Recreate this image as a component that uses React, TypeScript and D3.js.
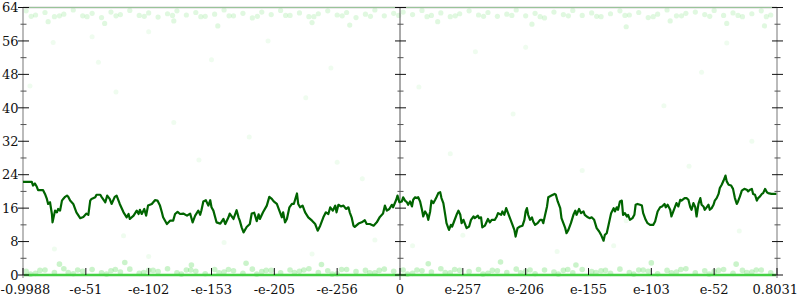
import React from "react";
import * as d3 from "d3";

const xTickLabels = ["-0.9988", "-e-51", "-e-102", "-e-153", "-e-205", "-e-256", "0", "e-257", "e-206", "e-155", "e-103", "e-52", "0.8031"];
const yMajorTicks = [0, 8, 16, 24, 32, 40, 48, 56, 64];
const yMinorTicks = [4, 12, 20, 28, 36, 44, 52, 60];

// [position (tick index units), value]
const lineLeft: [number, number][] = [
  [0.0, 22.3], [0.14, 22.3], [0.16, 21.4], [0.19, 21.9], [0.22, 21.1], [0.24, 20.3], [0.3, 20.3], [0.32, 20.3], [0.35, 19.4], [0.38, 18.2],
  [0.4, 17.0], [0.43, 17.4], [0.46, 14.6], [0.47, 12.6], [0.51, 15.4], [0.54, 15.0], [0.56, 15.8], [0.59, 15.4], [0.62, 17.8], [0.64, 18.2],
  [0.67, 18.7], [0.7, 19.0], [0.72, 18.7], [0.75, 17.8], [0.8, 17.0], [0.85, 15.0], [0.91, 13.6], [0.96, 13.9], [1.01, 14.7], [1.04, 14.4],
  [1.07, 17.8], [1.09, 18.2], [1.15, 18.6], [1.17, 19.2], [1.23, 19.2], [1.25, 18.7], [1.31, 17.4], [1.34, 19.0], [1.38, 18.2], [1.41, 17.0],
  [1.46, 18.7], [1.49, 19.0], [1.54, 17.0], [1.6, 15.0], [1.65, 13.8], [1.68, 14.6], [1.7, 13.4], [1.76, 14.2], [1.81, 15.4], [1.84, 14.6],
  [1.86, 15.6], [1.89, 14.6], [1.93, 15.8], [1.96, 14.2], [1.99, 16.6], [2.05, 17.0], [2.1, 17.9], [2.14, 17.8], [2.18, 16.6], [2.21, 15.0],
  [2.23, 13.8], [2.29, 12.2], [2.34, 13.0], [2.39, 13.0], [2.42, 14.6], [2.46, 15.1], [2.5, 14.6], [2.55, 14.7], [2.61, 14.2], [2.66, 14.7],
  [2.7, 12.6], [2.74, 14.2], [2.79, 15.4], [2.82, 14.4], [2.84, 15.5], [2.87, 17.6], [2.91, 17.9], [2.95, 16.6], [2.98, 17.9], [3.0, 16.2],
  [3.03, 15.4], [3.08, 12.6], [3.14, 12.3], [3.19, 13.4], [3.22, 12.2], [3.27, 13.8], [3.29, 14.7], [3.35, 13.4], [3.4, 15.5], [3.43, 13.8],
  [3.45, 13.0], [3.48, 11.4], [3.51, 10.2], [3.56, 11.5], [3.61, 12.2], [3.64, 14.7], [3.68, 14.9], [3.72, 12.9], [3.75, 14.5], [3.77, 13.4],
  [3.82, 15.0], [3.88, 16.6], [3.92, 18.7], [3.96, 18.2], [3.99, 17.6], [4.04, 17.0], [4.08, 15.4], [4.12, 13.8], [4.14, 15.0], [4.17, 12.6],
  [4.2, 13.4], [4.24, 16.2], [4.28, 17.0], [4.31, 17.0], [4.36, 19.5], [4.38, 17.0], [4.41, 16.2], [4.45, 16.6], [4.49, 15.0], [4.54, 13.8],
  [4.6, 13.0], [4.65, 12.2], [4.69, 10.6], [4.73, 11.8], [4.78, 13.8], [4.82, 15.0], [4.86, 14.6], [4.89, 16.2], [4.93, 15.4], [4.97, 16.6],
  [4.99, 15.0], [5.02, 16.8], [5.06, 16.4], [5.1, 16.6], [5.14, 15.8], [5.18, 16.2], [5.2, 15.0], [5.23, 13.8], [5.26, 11.8], [5.28, 11.5],
  [5.34, 12.3], [5.39, 12.6], [5.44, 13.1], [5.47, 12.2], [5.52, 12.2], [5.58, 11.8], [5.63, 12.6], [5.68, 13.9], [5.73, 14.7], [5.76, 16.6],
  [5.79, 15.4], [5.83, 15.8], [5.87, 16.8], [5.89, 16.2], [5.94, 18.0], [5.96, 19.0], [5.99, 17.4],
];

const lineRight: [number, number][] = [
  [6.03, 17.6], [6.05, 18.6], [6.08, 17.8], [6.11, 17.4], [6.13, 16.8], [6.16, 17.6], [6.19, 16.4], [6.21, 18.0], [6.24, 18.6], [6.27, 18.4],
  [6.29, 18.6], [6.32, 17.6], [6.35, 15.6], [6.37, 14.0], [6.4, 15.2], [6.43, 14.4], [6.45, 13.2], [6.48, 15.2], [6.5, 17.8], [6.53, 17.2],
  [6.56, 18.0], [6.58, 18.6], [6.61, 19.6], [6.64, 19.8], [6.66, 18.4], [6.69, 17.2], [6.72, 14.4], [6.74, 12.4], [6.78, 10.8], [6.81, 12.0],
  [6.83, 11.6], [6.86, 12.8], [6.9, 14.4], [6.93, 15.4], [6.96, 14.4], [6.98, 12.4], [7.01, 13.2], [7.03, 12.4], [7.06, 11.2], [7.1, 11.6],
  [7.13, 13.2], [7.17, 14.0], [7.19, 13.6], [7.24, 14.2], [7.26, 13.6], [7.29, 13.8], [7.31, 11.4], [7.35, 11.8], [7.4, 13.4], [7.43, 12.6],
  [7.46, 13.2], [7.51, 13.2], [7.54, 14.0], [7.56, 14.8], [7.61, 14.4], [7.63, 15.2], [7.66, 14.4], [7.69, 16.0], [7.72, 14.8], [7.75, 13.6],
  [7.78, 12.4], [7.82, 10.8], [7.84, 9.2], [7.87, 11.2], [7.91, 11.6], [7.95, 11.8], [7.98, 13.2], [8.0, 15.2], [8.02, 16.0], [8.04, 14.4],
  [8.07, 13.2], [8.1, 13.8], [8.12, 12.8], [8.15, 12.0], [8.19, 12.4], [8.23, 13.2], [8.26, 13.2], [8.28, 12.4], [8.31, 14.4], [8.34, 16.4],
  [8.36, 18.6], [8.41, 19.0], [8.46, 19.4], [8.48, 19.2], [8.51, 17.6], [8.55, 16.0], [8.57, 13.6], [8.6, 12.4], [8.63, 11.2], [8.65, 10.0],
  [8.68, 10.8], [8.72, 12.4], [8.76, 14.4], [8.79, 15.4], [8.81, 14.4], [8.85, 15.8], [8.88, 14.8], [8.92, 15.2], [8.94, 14.4], [8.99, 13.8],
  [9.02, 13.6], [9.05, 13.8], [9.09, 13.2], [9.13, 11.2], [9.17, 10.4], [9.2, 9.6], [9.24, 8.2], [9.26, 9.6], [9.29, 10.0], [9.32, 12.0],
  [9.36, 14.8], [9.4, 16.0], [9.42, 15.2], [9.45, 16.2], [9.47, 15.6], [9.5, 17.6], [9.53, 17.8], [9.55, 14.4], [9.58, 14.8], [9.61, 14.0],
  [9.63, 14.4], [9.66, 13.2], [9.7, 13.6], [9.73, 14.4], [9.75, 16.8], [9.78, 17.0], [9.82, 16.8], [9.85, 16.6], [9.87, 14.8], [9.91, 13.2],
  [9.94, 12.4], [9.98, 12.0], [10.03, 12.0], [10.06, 12.8], [10.1, 15.2], [10.14, 16.2], [10.17, 16.4], [10.21, 17.0], [10.23, 16.2], [10.26, 16.8],
  [10.3, 15.6], [10.32, 14.0], [10.35, 15.2], [10.38, 16.4], [10.4, 17.2], [10.43, 16.4], [10.46, 18.0], [10.48, 17.8], [10.53, 18.4], [10.56, 18.4],
  [10.59, 18.0], [10.62, 16.2], [10.64, 15.6], [10.67, 17.2], [10.7, 16.2], [10.72, 14.0], [10.75, 17.0], [10.78, 18.4], [10.8, 16.8], [10.83, 16.4],
  [10.85, 15.6], [10.88, 16.2], [10.91, 16.8], [10.93, 15.6], [10.96, 16.0], [10.99, 16.8], [11.01, 17.8], [11.04, 18.4], [11.07, 19.4], [11.09, 20.8],
  [11.12, 21.6], [11.15, 22.6], [11.18, 23.8], [11.2, 22.4], [11.23, 21.6], [11.27, 21.4], [11.3, 20.6], [11.33, 18.4], [11.36, 17.0], [11.38, 17.6],
  [11.41, 18.8], [11.44, 20.2], [11.48, 20.6], [11.52, 20.4], [11.54, 20.0], [11.57, 20.4], [11.6, 20.6], [11.62, 19.4], [11.65, 19.2], [11.68, 17.8],
  [11.7, 18.4], [11.73, 18.8], [11.76, 19.4], [11.78, 19.6], [11.81, 20.6], [11.84, 19.8], [11.86, 19.6], [11.91, 19.4], [11.99, 19.4],
];

// light scatter points [position, value]
const bottomBand: [number, number][] = [
  [0.05, 0.9], [0.2, 0.4], [0.35, 1.2], [0.5, 0.6], [0.65, 1.5], [0.8, 0.3], [0.95, 0.9], [1.1, 1.3], [1.25, 0.5], [1.4, 1.0],
  [1.55, 0.7], [1.7, 1.4], [1.85, 0.4], [2.0, 1.1], [2.15, 0.8], [2.3, 1.5], [2.45, 0.5], [2.6, 1.2], [2.75, 0.9], [2.9, 0.3],
  [3.05, 1.3], [3.2, 0.7], [3.35, 1.0], [3.5, 0.4], [3.65, 1.4], [3.8, 0.8], [3.95, 1.1], [4.1, 0.5], [4.25, 1.2], [4.4, 0.9],
  [4.55, 1.5], [4.7, 0.6], [4.85, 1.0], [5.0, 0.3], [5.15, 1.3], [5.3, 0.8], [5.45, 1.1], [5.6, 0.5], [5.75, 1.4], [5.9, 0.9],
  [6.05, 1.2], [6.2, 0.4], [6.35, 1.0], [6.5, 0.7], [6.65, 1.5], [6.8, 0.5], [6.95, 1.1], [7.1, 0.8], [7.25, 1.3], [7.4, 0.4],
  [7.55, 1.0], [7.7, 0.6], [7.85, 1.4], [8.0, 0.9], [8.15, 0.3], [8.3, 1.2], [8.45, 0.7], [8.6, 1.1], [8.75, 0.5], [8.9, 1.3],
  [9.05, 0.8], [9.2, 1.0], [9.35, 0.4], [9.5, 1.4], [9.65, 0.6], [9.8, 1.2], [9.95, 0.9], [10.1, 0.3], [10.25, 1.1], [10.4, 0.7],
  [10.55, 1.5], [10.7, 0.5], [10.85, 1.0], [11.0, 0.8], [11.15, 1.3], [11.3, 0.4], [11.45, 1.1], [11.6, 0.7], [11.75, 1.2], [11.9, 0.5],
  [0.12, 0.2], [0.72, 0.6], [1.33, 0.2], [1.92, 0.6], [2.52, 0.2], [3.12, 0.5], [3.72, 0.2], [4.32, 0.6], [4.92, 0.2], [5.52, 0.5],
  [6.12, 0.2], [6.72, 0.6], [7.32, 0.2], [7.92, 0.5], [8.52, 0.2], [9.12, 0.6], [9.72, 0.2], [10.32, 0.5], [10.92, 0.2], [11.52, 0.6],
  [0.27, 1.1], [0.87, 1.2], [1.47, 1.3], [2.07, 1.1], [2.67, 1.2], [3.27, 1.3], [3.87, 1.1], [4.47, 1.2], [5.07, 1.3], [5.67, 1.1],
  [6.27, 1.2], [6.87, 1.3], [7.47, 1.1], [8.07, 1.2], [8.67, 1.3], [9.27, 1.1], [9.87, 1.2], [10.47, 1.3], [11.07, 1.1], [11.67, 1.2],
  [0.58, 2.6], [1.62, 3.0], [2.68, 2.4], [3.55, 2.8], [4.75, 2.5], [6.45, 2.7], [7.6, 3.1], [8.8, 2.4], [10.0, 2.9], [11.35, 2.6],
];

const topBand: [number, number][] = [
  [0.05, 63.2], [0.2, 62.2], [0.35, 62.8], [0.5, 61.8], [0.65, 62.4], [0.8, 63.4], [0.95, 62.0], [1.1, 62.6], [1.25, 61.6], [1.4, 62.9],
  [1.55, 62.3], [1.7, 63.3], [1.85, 62.1], [2.0, 62.7], [2.15, 61.7], [2.3, 62.5], [2.45, 63.2], [2.6, 62.2], [2.75, 62.8], [2.9, 61.9],
  [3.05, 62.4], [3.2, 63.4], [3.35, 62.0], [3.5, 62.6], [3.65, 61.5], [3.8, 62.9], [3.95, 62.3], [4.1, 63.3], [4.25, 62.1], [4.4, 62.7],
  [4.55, 61.8], [4.7, 62.5], [4.85, 63.2], [5.0, 62.2], [5.15, 62.8], [5.3, 61.6], [5.45, 62.4], [5.6, 63.4], [5.75, 62.0], [5.9, 62.6],
  [6.05, 62.9], [6.2, 62.3], [6.35, 63.3], [6.5, 62.1], [6.65, 62.7], [6.8, 61.8], [6.95, 62.5], [7.1, 63.2], [7.25, 62.2], [7.4, 62.8],
  [7.55, 61.9], [7.7, 62.4], [7.85, 63.4], [8.0, 62.0], [8.15, 62.6], [8.3, 61.5], [8.45, 62.9], [8.6, 62.3], [8.75, 63.3], [8.9, 62.1],
  [9.05, 62.7], [9.2, 61.8], [9.35, 62.5], [9.5, 63.2], [9.65, 62.2], [9.8, 62.8], [9.95, 61.6], [10.1, 62.4], [10.25, 63.4], [10.4, 62.0],
  [10.55, 62.6], [10.7, 62.9], [10.85, 62.3], [11.0, 63.3], [11.15, 62.1], [11.3, 62.7], [11.45, 61.8], [11.6, 62.5], [11.75, 63.2], [11.9, 62.2],
  [0.13, 61.9], [0.58, 62.0], [1.02, 61.8], [1.48, 62.0], [1.93, 61.9], [2.38, 62.1], [2.83, 61.8], [3.28, 62.0], [3.73, 61.9], [4.18, 62.1],
  [4.63, 61.8], [5.08, 62.0], [5.53, 61.9], [5.98, 62.1], [6.43, 61.8], [6.88, 62.0], [7.33, 61.9], [7.78, 62.1], [8.23, 61.8], [8.68, 62.0],
  [9.13, 61.9], [9.58, 62.1], [10.03, 61.8], [10.48, 62.0], [10.93, 61.9], [11.38, 62.1], [11.83, 61.8],
  [0.4, 60.6], [1.3, 60.2], [2.4, 60.8], [3.1, 59.6], [4.6, 60.4], [5.2, 59.8], [6.6, 60.6], [8.1, 60.0], [9.6, 59.4], [10.3, 60.8], [11.2, 60.2], [11.8, 59.6],
];

const midScatter: [number, number][] = [
  [0.11, 45.2], [0.48, 55.6], [1.1, 57.0], [1.2, 50.9], [1.48, 43.8], [2.0, 58.2], [2.4, 36.5], [3.0, 51.5], [3.6, 33.0], [4.5, 42.4],
  [5.0, 27.0], [5.4, 23.0], [0.5, 6.2], [1.6, 9.4], [2.0, 4.4], [3.2, 7.8], [4.6, 5.0], [5.6, 8.4], [6.3, 45.0], [6.8, 29.0],
  [7.2, 53.4], [7.8, 38.5], [8.5, 5.6], [8.9, 25.0], [9.4, 7.0], [9.6, 13.0], [10.2, 40.5], [10.8, 48.5], [11.2, 55.5], [11.6, 32.0],
  [6.2, 7.0], [7.0, 9.5], [3.9, 56.0], [4.9, 49.5], [2.8, 27.5], [8.0, 54.5], [10.6, 26.0], [11.4, 10.5],
];

const baseline: [number, number][] = [[0, 0], [12, 0]];
const ceiling: [number, number][] = [[0, 64], [12, 64]];

export default function App() {
  const W = 800;
  const H = 300;
  const x = d3.scaleLinear().domain([0, 12]).range([23, 777]);
  const y = d3.scaleLinear().domain([0, 64]).range([275, 7.5]);
  const line = d3.line<[number, number]>().x((d) => x(d[0])).y((d) => y(d[1]));
  const series = [...lineLeft, ...lineRight];
  const font = "DejaVu Serif, serif";
  const axesX = [0, 6, 12];
  const lastIdx = xTickLabels.length - 1;

  return (
    <svg width={W} height={H} style={{ position: "fixed", left: 0, top: 0, background: "#fff" }} xmlns="http://www.w3.org/2000/svg">
      {/* scatter */}
      <g fill="#66dd66">
        {midScatter.map((d, i) => (
          <circle key={"m" + i} cx={x(d[0])} cy={y(d[1])} r={2.5} opacity={0.1} />
        ))}
        {topBand.map((d, i) => (
          <circle key={"t" + i} cx={x(d[0])} cy={y(d[1])} r={2.6} opacity={0.2} />
        ))}
        {bottomBand.map((d, i) => (
          <circle key={"b" + i} cx={x(d[0])} cy={y(d[1])} r={2.8} opacity={0.35} />
        ))}
      </g>
      {/* frame */}
      <path d={line(ceiling) || ""} stroke="#aaa" strokeWidth={1.6} fill="none" />
      <path d={line(ceiling) || ""} stroke="#88dd88" strokeWidth={1} fill="none" opacity={0.5} />
      <path d={line(baseline) || ""} stroke="#44d044" strokeWidth={2.6} fill="none" />
      <line x1={x(0)} x2={x(0)} y1={y(64)} y2={y(0) + 3} stroke="#bbb" strokeWidth={2} />
      <line x1={x(12)} x2={x(12)} y1={y(64)} y2={y(0) + 3} stroke="#bbb" strokeWidth={2} />
      <line x1={x(6)} x2={x(6)} y1={y(64)} y2={y(0) + 5} stroke="#555" strokeWidth={1} />
      {/* y ticks on three axes */}
      {axesX.map((ax) => (
        <g key={"ax" + ax}>
          {yMajorTicks.map((t) => (
            <line key={"M" + t} x1={x(ax) - 5} x2={x(ax) + 6} y1={y(t)} y2={y(t)} stroke="#111" strokeWidth={1} />
          ))}
          {yMinorTicks.map((t) => (
            <line key={"m" + t} x1={x(ax) - 2.5} x2={x(ax) + 3.5} y1={y(t)} y2={y(t)} stroke="#555" strokeWidth={1} />
          ))}
        </g>
      ))}
      {/* y labels */}
      {yMajorTicks.map((t) => (
        <text key={"yl" + t} x={18.5} y={y(t) + 4.7} textAnchor="end" fontFamily={font} fontSize={13} fill="#111">
          {t}
        </text>
      ))}
      {/* x ticks & labels */}
      {xTickLabels.map((lab, i) => (
        <g key={"xl" + i}>
          <line x1={x(i)} x2={x(i)} y1={y(0) - 7} y2={y(0)} stroke="#111" strokeWidth={1} />
          <text
            x={i === 0 ? 0.5 : i === lastIdx ? 798 : x(i)}
            y={294}
            textAnchor={i === 0 ? "start" : i === lastIdx ? "end" : "middle"}
            fontFamily={font}
            fontSize={13}
            fill="#111"
          >
            {lab}
          </text>
        </g>
      ))}
      {/* data line */}
      <path d={line(series) || ""} fill="none" stroke="#006400" strokeWidth={2.2} strokeLinejoin="round" />
    </svg>
  );
}
